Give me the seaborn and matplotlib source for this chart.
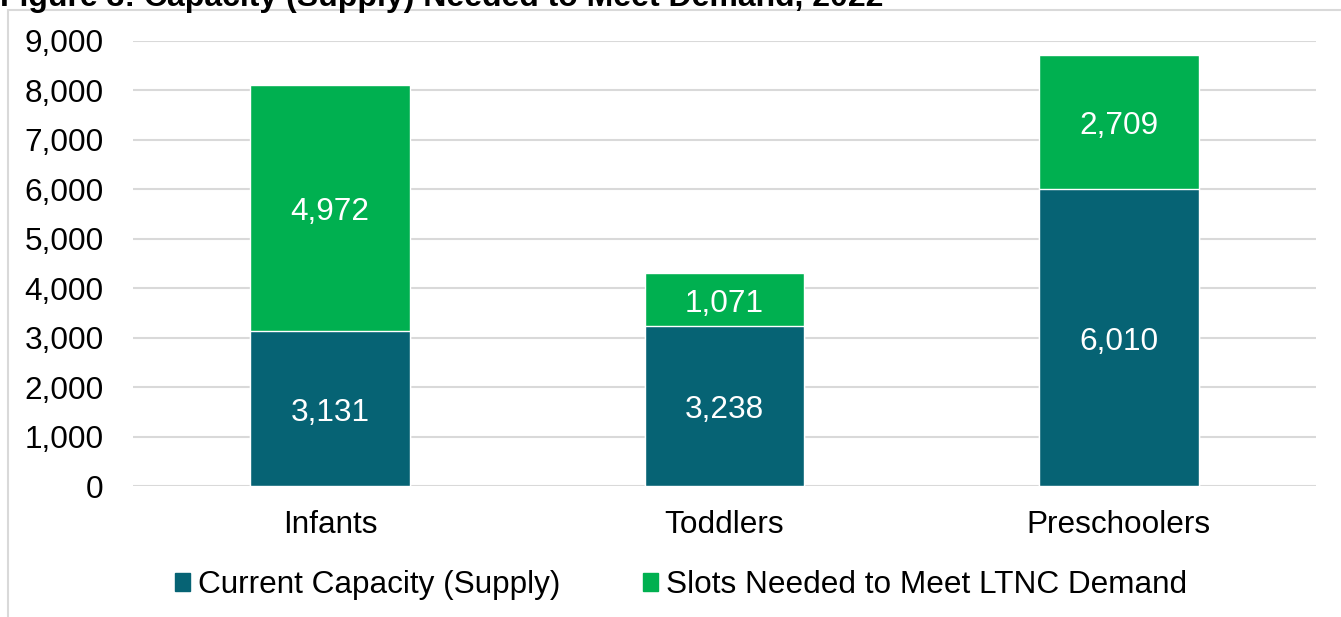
import matplotlib
matplotlib.use('Agg')
import matplotlib.pyplot as plt
import matplotlib.patches as mpatches
import seaborn as sb
import pandas as pd

# data
age_groups = ["Infants", "Toddlers", "Preschoolers"]
current_capacity = [3131, 3238, 6010]
slots_needed = [4972, 1071, 2709]
series_names = ["Current Capacity (Supply)", "Slots Needed to Meet LTNC Demand"]
title = "Figure 3: Capacity (Supply) Needed to Meet Demand, 2022"

teal = "#066374"
green = "#00B050"

df = pd.DataFrame({
    "group": age_groups,
    "supply": current_capacity,
    "needed": slots_needed,
})
df["total"] = df["supply"] + df["needed"]

sb.set_theme(style="white")
plt.rcParams['font.family'] = ['Liberation Sans', 'DejaVu Sans']
plt.rcParams['text.color'] = 'black'
plt.rcParams['xtick.color'] = 'black'
plt.rcParams['ytick.color'] = 'black'

fs = 22.7
W, H = 1341, 617
fig = plt.figure(figsize=(W / 100, H / 100), dpi=100)
ax = fig.add_axes([133 / W, 1 - 486 / H, (1316 - 133) / W, (486 - 41) / H])

# stacked bars: total in green, supply drawn on top
sb.barplot(data=df, x="group", y="total", color=green, width=0.405,
           saturation=1, ax=ax, zorder=3)
sb.barplot(data=df, x="group", y="supply", color=teal, width=0.405,
           saturation=1, ax=ax, zorder=3)

# value labels (nudged down a little like the excel original)
for i, row in df.iterrows():
    ax.annotate(f"{row['supply']:,}", (i, row["supply"] / 2), xytext=(0, -3),
                textcoords="offset points", ha="center", va="center",
                color="white", fontsize=fs, zorder=4)
    ax.annotate(f"{row['needed']:,}", (i, row["supply"] + row["needed"] / 2),
                xytext=(0, -3), textcoords="offset points", ha="center",
                va="center", color="white", fontsize=fs, zorder=4)

ax.set_xlim(-0.5, 2.5)
ax.set_ylim(0, 9000)
ax.set_yticks(range(0, 9001, 1000))
ax.set_yticklabels([f"{v:,}" for v in range(0, 9001, 1000)])
ax.yaxis.grid(True, color="#D9D9D9", linewidth=1.5, zorder=0)
ax.set_axisbelow(True)
for s in ax.spines.values():
    s.set_visible(False)
ax.tick_params(axis="y", labelsize=fs, length=0, pad=21)
ax.tick_params(axis="x", labelsize=fs, length=0, pad=17)
ax.set_xlabel("")
ax.set_ylabel("")

# legend
handles = [mpatches.Patch(color=teal, label=series_names[0]),
           mpatches.Patch(color=green, label=series_names[1])]
fig.legend(handles=handles, loc="center", bbox_to_anchor=(681 / W, 1 - 585 / H),
           ncol=2, frameon=False, fontsize=fs, handlelength=0.5, handleheight=0.5,
           handletextpad=0.25, columnspacing=2.6)

# chart frame and clipped title
frame = mpatches.Rectangle((8 / W, -0.1), 1.2, 1 - 10 / H + 0.1, transform=fig.transFigure,
                           fill=False, edgecolor="#D9D9D9", linewidth=1.5)
fig.patches.append(frame)
fig.text(0.0, 1 - 6 / H, title, fontsize=23, fontweight="bold", va="baseline", ha="left")

fig.savefig("out.png", dpi=100)
